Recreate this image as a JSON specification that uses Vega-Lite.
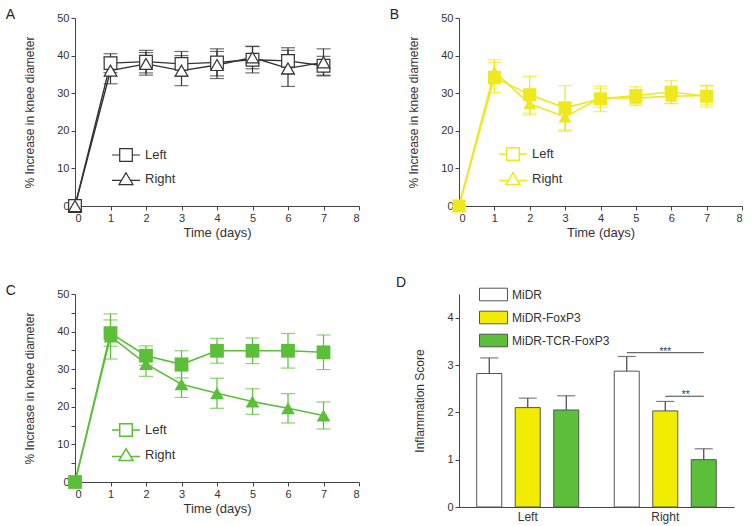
{
  "$schema": "https://vega.github.io/schema/vega-lite/v6.json",
  "datasets": {
    "a": [
      {"day": 0, "side": "Left", "mean": 0, "err": 0},
      {"day": 1, "side": "Left", "mean": 38.0, "err": 2.5},
      {"day": 2, "side": "Left", "mean": 38.4, "err": 3.0},
      {"day": 3, "side": "Left", "mean": 37.8, "err": 3.3},
      {"day": 4, "side": "Left", "mean": 38.2, "err": 3.6},
      {"day": 5, "side": "Left", "mean": 38.9, "err": 3.5},
      {"day": 6, "side": "Left", "mean": 38.6, "err": 3.5},
      {"day": 7, "side": "Left", "mean": 37.3, "err": 2.5},
      {"day": 0, "side": "Right", "mean": 0, "err": 0},
      {"day": 1, "side": "Right", "mean": 36.0, "err": 3.5},
      {"day": 2, "side": "Right", "mean": 37.8, "err": 3.0},
      {"day": 3, "side": "Right", "mean": 36.0, "err": 4.0},
      {"day": 4, "side": "Right", "mean": 37.5, "err": 3.6},
      {"day": 5, "side": "Right", "mean": 39.5, "err": 3.0},
      {"day": 6, "side": "Right", "mean": 36.6, "err": 4.8},
      {"day": 7, "side": "Right", "mean": 38.2, "err": 3.6}
    ],
    "b": [
      {"day": 0, "side": "Left", "mean": 0, "err": 0},
      {"day": 1, "side": "Left", "mean": 34.2, "err": 4.0},
      {"day": 2, "side": "Left", "mean": 29.6, "err": 4.9},
      {"day": 3, "side": "Left", "mean": 26.1, "err": 5.9},
      {"day": 4, "side": "Left", "mean": 28.5, "err": 3.4},
      {"day": 5, "side": "Left", "mean": 29.4, "err": 2.3},
      {"day": 6, "side": "Left", "mean": 30.3, "err": 3.0},
      {"day": 7, "side": "Left", "mean": 29.2, "err": 2.9},
      {"day": 0, "side": "Right", "mean": 0, "err": 0},
      {"day": 1, "side": "Right", "mean": 35.7, "err": 3.2},
      {"day": 2, "side": "Right", "mean": 27.2, "err": 3.0},
      {"day": 3, "side": "Right", "mean": 23.7, "err": 3.8},
      {"day": 4, "side": "Right", "mean": 28.8, "err": 2.5},
      {"day": 5, "side": "Right", "mean": 28.7, "err": 2.0},
      {"day": 6, "side": "Right", "mean": 29.2, "err": 2.0},
      {"day": 7, "side": "Right", "mean": 29.4, "err": 2.5}
    ],
    "c": [
      {"day": 0, "side": "Left", "mean": 0, "err": 0},
      {"day": 1, "side": "Left", "mean": 39.6, "err": 3.5},
      {"day": 2, "side": "Left", "mean": 33.6, "err": 2.6},
      {"day": 3, "side": "Left", "mean": 31.3, "err": 3.6},
      {"day": 4, "side": "Left", "mean": 34.9, "err": 3.3},
      {"day": 5, "side": "Left", "mean": 34.9, "err": 3.4},
      {"day": 6, "side": "Left", "mean": 34.9, "err": 4.6},
      {"day": 7, "side": "Left", "mean": 34.5, "err": 4.6},
      {"day": 0, "side": "Right", "mean": 0, "err": 0},
      {"day": 1, "side": "Right", "mean": 38.7, "err": 6.0},
      {"day": 2, "side": "Right", "mean": 31.4, "err": 3.3},
      {"day": 3, "side": "Right", "mean": 26.0, "err": 3.5},
      {"day": 4, "side": "Right", "mean": 23.6, "err": 4.0},
      {"day": 5, "side": "Right", "mean": 21.4, "err": 3.4},
      {"day": 6, "side": "Right", "mean": 19.6, "err": 3.9},
      {"day": 7, "side": "Right", "mean": 17.7, "err": 3.6}
    ],
    "d": [
      {"side": "Left", "group": "MiDR", "score": 2.82, "err": 0.33},
      {"side": "Left", "group": "MiDR-FoxP3", "score": 2.1, "err": 0.2},
      {"side": "Left", "group": "MiDR-TCR-FoxP3", "score": 2.05, "err": 0.3},
      {"side": "Right", "group": "MiDR", "score": 2.87, "err": 0.31},
      {"side": "Right", "group": "MiDR-FoxP3", "score": 2.03, "err": 0.2},
      {"side": "Right", "group": "MiDR-TCR-FoxP3", "score": 1.0, "err": 0.23}
    ],
    "sig": [
      {"side": "Right", "group": "MiDR", "score": 3.26, "pair": "a"},
      {"side": "Right", "group": "MiDR-TCR-FoxP3", "score": 3.26, "pair": "a"},
      {"side": "Right", "group": "MiDR-FoxP3", "score": 2.34, "pair": "b"},
      {"side": "Right", "group": "MiDR-TCR-FoxP3", "score": 2.34, "pair": "b"}
    ]
  },
  "concat": [
    {
      "width": 284, "height": 188,
      "title": {"text": "A", "dx": -18},
      "data": {"name": "a"},
      "encoding": {
        "x": {"field": "day", "type": "quantitative", "scale": {"domain": [0, 8], "nice": false}, "axis": {"title": "Time (days)", "values": [0, 1, 2, 3, 4, 5, 6, 7, 8], "format": "d"}},
        "y": {"field": "mean", "type": "quantitative", "scale": {"domain": [0, 50], "nice": false}, "axis": {"title": "% Increase in knee diameter", "values": [0, 10, 20, 30, 40, 50]}}
      },
      "layer": [
        {"mark": {"type": "errorbar", "ticks": {"size": 14}, "color": "#333", "thickness": 1.2}, "encoding": {"yError": {"field": "err"}}},
        {"mark": {"type": "line", "color": "#333", "strokeWidth": 1.4}, "encoding": {"detail": {"field": "side"}}},
        {"mark": {"type": "point", "filled": false, "fill": "white", "fillOpacity": 1, "stroke": "#333", "strokeWidth": 1.2, "size": 160, "opacity": 1},
         "encoding": {"shape": {"field": "side", "type": "nominal", "scale": {"domain": ["Left", "Right"], "range": ["square", "triangle-up"]}, "legend": null}}},
        {"transform": [{"filter": "false"}], "mark": {"type": "point", "filled": false},
         "encoding": {"shape": {"field": "side", "type": "nominal", "scale": {"domain": ["Left", "Right"], "range": ["M-1,0H-0.45M0.45,0H1M-0.45,-0.45H0.45V0.45H-0.45Z", "M-1,0.1H-0.32M0.32,0.1H1M0,-0.45L0.5,0.4L-0.5,0.4Z"]},
           "legend": {"orient": "none", "legendX": 36, "legendY": 122, "title": null, "symbolSize": 784, "symbolFillColor": "white", "symbolStrokeColor": "#333", "symbolStrokeWidth": 1.2, "symbolOpacity": 1, "labelFontSize": 13, "labelColor": "#333", "rowPadding": -6, "padding": 0, "labelOffset": 4}}}},
        {"data": {"values": [{"t": "MiDR"}]}, "mark": {"type": "text", "fontSize": 13, "color": "#333", "baseline": "alphabetic", "dy": -2},
         "encoding": {"x": {"datum": 3.3}, "y": {"datum": 50}, "text": {"field": "t"}}}
      ],
      "resolve": {"scale": {"shape": "independent"}}
    },
    {
      "width": 283, "height": 188,
      "title": {"text": "B", "dx": -18},
      "data": {"name": "b"},
      "encoding": {
        "x": {"field": "day", "type": "quantitative", "scale": {"domain": [0, 8], "nice": false}, "axis": {"title": "Time (days)", "values": [0, 1, 2, 3, 4, 5, 6, 7, 8], "format": "d"}},
        "y": {"field": "mean", "type": "quantitative", "scale": {"domain": [0, 50], "nice": false}, "axis": {"title": "% Increase in knee diameter", "values": [0, 10, 20, 30, 40, 50]}}
      },
      "layer": [
        {"mark": {"type": "errorbar", "ticks": {"size": 14}, "color": "#efe81f", "thickness": 1.2}, "encoding": {"yError": {"field": "err"}}},
        {"mark": {"type": "line", "color": "#efe81f", "strokeWidth": 1.6}, "encoding": {"detail": {"field": "side"}}},
        {"mark": {"type": "point", "filled": true, "color": "#efe81f", "size": 170, "opacity": 1},
         "encoding": {"shape": {"field": "side", "type": "nominal", "scale": {"domain": ["Left", "Right"], "range": ["square", "triangle-up"]}, "legend": null}}},
        {"transform": [{"filter": "false"}], "mark": {"type": "point", "filled": false},
         "encoding": {"shape": {"field": "side", "type": "nominal", "scale": {"domain": ["Left", "Right"], "range": ["M-1,0H-0.45M0.45,0H1M-0.45,-0.45H0.45V0.45H-0.45Z", "M-1,0.1H-0.32M0.32,0.1H1M0,-0.45L0.5,0.4L-0.5,0.4Z"]},
           "legend": {"orient": "none", "legendX": 39, "legendY": 121, "title": null, "symbolSize": 784, "symbolFillColor": "#efe81f", "symbolStrokeColor": "#efe81f", "symbolStrokeWidth": 1.5, "symbolOpacity": 1, "labelFontSize": 13, "labelColor": "#333", "rowPadding": -6, "padding": 0, "labelOffset": 4}}}},
        {"data": {"values": [{"t": "MiDR-FoxP3"}]}, "mark": {"type": "text", "fontSize": 13, "color": "#333", "baseline": "alphabetic", "dy": -2},
         "encoding": {"x": {"datum": 3.7}, "y": {"datum": 50}, "text": {"field": "t"}}}
      ],
      "resolve": {"scale": {"shape": "independent"}}
    },
    {
      "width": 284, "height": 188,
      "title": {"text": "C", "dx": -18},
      "data": {"name": "c"},
      "encoding": {
        "x": {"field": "day", "type": "quantitative", "scale": {"domain": [0, 8], "nice": false}, "axis": {"title": "Time (days)", "values": [0, 1, 2, 3, 4, 5, 6, 7, 8], "format": "d"}},
        "y": {"field": "mean", "type": "quantitative", "scale": {"domain": [0, 50], "nice": false}, "axis": {"title": "% Increase in knee diameter", "values": [0, 5, 10, 15, 20, 25, 30, 35, 40, 45, 50], "labelExpr": "datum.value % 10 === 0 ? datum.label : ''"}}
      },
      "layer": [
        {"mark": {"type": "errorbar", "ticks": {"size": 14}, "color": "#5cbf3a", "thickness": 1.2}, "encoding": {"yError": {"field": "err"}}},
        {"mark": {"type": "line", "color": "#5cbf3a", "strokeWidth": 1.6}, "encoding": {"detail": {"field": "side"}}},
        {"mark": {"type": "point", "filled": true, "color": "#5cbf3a", "size": 190, "opacity": 1},
         "encoding": {"shape": {"field": "side", "type": "nominal", "scale": {"domain": ["Left", "Right"], "range": ["square", "triangle-up"]}, "legend": null}}},
        {"transform": [{"filter": "false"}], "mark": {"type": "point", "filled": false},
         "encoding": {"shape": {"field": "side", "type": "nominal", "scale": {"domain": ["Left", "Right"], "range": ["M-1,0H-0.45M0.45,0H1M-0.45,-0.45H0.45V0.45H-0.45Z", "M-1,0.1H-0.32M0.32,0.1H1M0,-0.45L0.5,0.4L-0.5,0.4Z"]},
           "legend": {"orient": "none", "legendX": 36, "legendY": 121, "title": null, "symbolSize": 784, "symbolFillColor": "#5cbf3a", "symbolStrokeColor": "#5cbf3a", "symbolStrokeWidth": 1.5, "symbolOpacity": 1, "labelFontSize": 13, "labelColor": "#333", "rowPadding": -5, "padding": 0, "labelOffset": 4}}}},
        {"data": {"values": [{"t": "MiDR-TCR-FoxP3"}]}, "mark": {"type": "text", "fontSize": 13, "color": "#333", "baseline": "alphabetic", "dy": -2},
         "encoding": {"x": {"datum": 3.8}, "y": {"datum": 50}, "text": {"field": "t"}}}
      ],
      "resolve": {"scale": {"shape": "independent"}}
    },
    {
      "width": 275, "height": 213,
      "title": {"text": "D", "dx": -18},
      "encoding": {
        "x": {"field": "side", "type": "nominal", "scale": {"domain": ["Left", "Right"], "paddingInner": 0.258, "paddingOuter": 0.129}, "axis": {"title": null, "ticks": false, "labelAngle": 0, "labelFontSize": 12, "labelPadding": 4}},
        "xOffset": {"field": "group", "type": "nominal", "scale": {"domain": ["MiDR", "MiDR-FoxP3", "MiDR-TCR-FoxP3"], "paddingInner": 0.35, "paddingOuter": 0}},
        "y": {"field": "score", "type": "quantitative", "scale": {"domain": [0, 4.5], "nice": false}, "axis": {"title": "Inflammation Score", "values": [0, 1, 2, 3, 4], "titleFontSize": 12}}
      },
      "layer": [
        {"data": {"name": "d"}, "mark": {"type": "errorbar", "ticks": {"size": 18}, "color": "#444", "thickness": 1.2}, "encoding": {"yError": {"field": "err"}}},
        {"data": {"name": "d"}, "mark": {"type": "bar", "stroke": "#555", "strokeWidth": 1},
         "encoding": {"fill": {"field": "group", "type": "nominal", "scale": {"domain": ["MiDR", "MiDR-FoxP3", "MiDR-TCR-FoxP3"], "range": ["#ffffff", "#f2ec00", "#5cbf3a"]},
           "legend": {"orient": "none", "legendX": 20, "legendY": -14, "title": null, "symbolType": "M-1,-0.45H1V0.45H-1Z", "symbolSize": 784, "symbolStrokeColor": "#555", "symbolStrokeWidth": 1, "labelFontSize": 12, "labelColor": "#333", "rowPadding": -5, "padding": 0, "labelOffset": 4}}}},
        {"data": {"name": "sig"}, "mark": {"type": "line", "color": "#444", "strokeWidth": 1}, "encoding": {"detail": {"field": "pair"}}},
        {"data": {"values": [{"side": "Right", "group": "MiDR-FoxP3", "score": 3.26, "label": "***"}]}, "mark": {"type": "text", "fontSize": 10, "color": "#333", "baseline": "alphabetic", "dy": 2},
         "encoding": {"text": {"field": "label"}}},
        {"data": {"values": [{"side": "Right", "group": "MiDR-TCR-FoxP3", "score": 2.34, "label": "**"}]}, "mark": {"type": "text", "fontSize": 10, "color": "#333", "baseline": "alphabetic", "dy": 2, "dx": -18},
         "encoding": {"text": {"field": "label"}}}
      ]
    }
  ],
  "columns": 2,
  "spacing": {"row": 63, "column": 100},
  "bounds": "flush",
  "align": "all",
  "padding": {"top": 8, "left": 5, "right": 5, "bottom": 3},
  "resolve": {"scale": {"fill": "independent", "shape": "independent"}, "legend": {"fill": "independent", "shape": "independent"}},
  "config": {
    "font": "Liberation Sans",
    "view": {"stroke": null},
    "axis": {"grid": false, "domainColor": "#444", "tickColor": "#444", "labelColor": "#333", "titleColor": "#333", "labelFontSize": 11, "titleFontSize": 13, "titleFontWeight": "normal", "tickSize": 4, "labelFont": "Liberation Sans", "titleFont": "Liberation Sans"},
    "axisX": {"titlePadding": 3},
    "axisY": {"titleFontSize": 12, "titlePadding": 20},
    "title": {"fontSize": 14, "fontWeight": "normal", "anchor": "start", "frame": "bounds", "color": "#222", "font": "Liberation Sans", "offset": -10}
  }
}
